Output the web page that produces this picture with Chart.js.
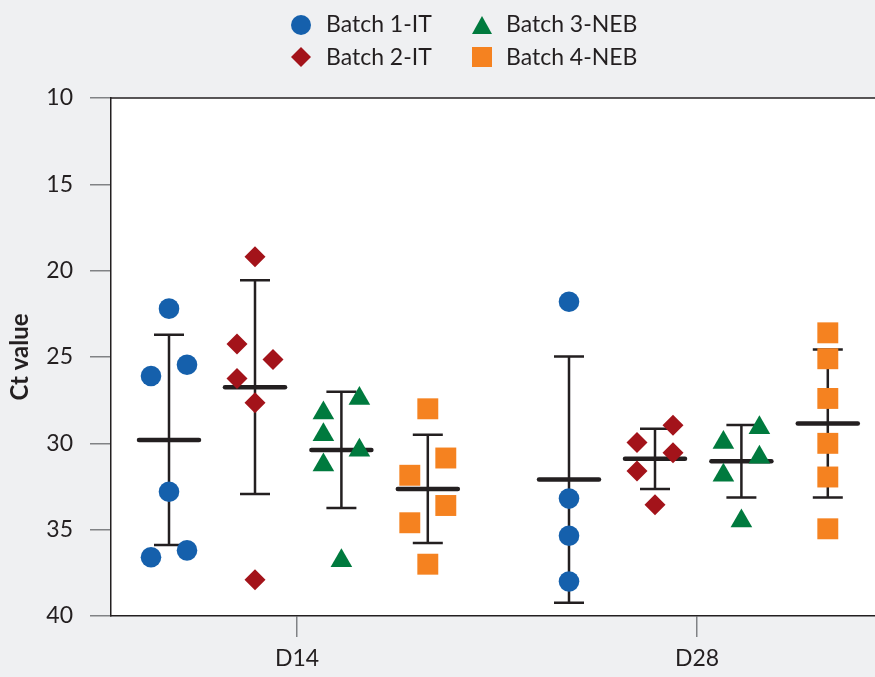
<!doctype html>
<html>
<head>
	<title>Ct value by batch</title>
	<script src="https://cdn.jsdelivr.net/npm/chart.js@4"></script>
	<style>
		body { margin: 0; background: #eff0f2; }
		#canvas-holder { width: 875px; height: 677px; }
	</style>
</head>
<body>
	<div id="canvas-holder">
		<canvas id="chart-area"></canvas>
	</div>
	<script>
		// data
		var timepoints = ['D14', 'D28'];
		var batchNames = ['Batch 1-IT', 'Batch 2-IT', 'Batch 3-NEB', 'Batch 4-NEB'];

		// Ct values, [D14 values, D28 values]
		var ctBatch1 = [[22.2, 25.45, 26.1, 32.8, 36.6, 36.2], [21.8, 33.2, 35.35, 38.0]];
		var ctBatch2 = [[19.2, 24.25, 25.15, 26.25, 27.65, 37.9], [28.95, 29.95, 30.55, 31.6, 33.55]];
		var ctBatch3 = [[27.4, 28.25, 29.5, 30.4, 31.25, 36.8], [29.1, 29.95, 30.8, 31.85, 34.5]];
		var ctBatch4 = [[28.0, 30.85, 31.85, 33.6, 34.6, 37.0], [23.6, 25.1, 27.4, 30.0, 31.95, 34.95]];

		// mean and SD per batch, [D14, D28]
		var meanBatch = [[29.8, 32.1], [26.75, 30.9], [30.38, 31.04], [32.64, 28.85]];
		var sdBatch = [[6.09, 7.13], [6.19, 1.75], [3.37, 2.1], [3.13, 4.29]];

		var yTickMin = 10, yTickMax = 40, yTickStep = 5;

		// layout: where each batch sits around its time point, and the sideways jitter of the dots
		var groupOffset = [-0.32, -0.105, 0.111, 0.327];
		var jitterStep = 0.045;
		var jitter = [
			[[0, 1, -1, 0, -1, 1], [0, 0, 0, 0]],
			[[0, -1, 1, -1, 0, 0], [1, -1, 1, -1, 0]],
			[[1, -1, -1, 1, -1, 0], [1, -1, 1, -1, 0]],
			[[0, 1, -1, 1, -1, 0], [0, 0, 0, 0, 0, 0]]
		];

		var ctValues = [ctBatch1, ctBatch2, ctBatch3, ctBatch4];
		var colors = ['#1560ac', '#a3131a', '#007a3e', '#f58220'];
		var styles = ['circle', 'rectRot', 'triangle', 'rect'];
		var radii = [10.3, 10.5, 12.5, 14.8];
		var ink = '#231f20';
		var tickGrey = '#808285';

		var datasets = [];
		ctValues.forEach(function(batch, b) {
			var pts = [];
			batch.forEach(function(values, t) {
				values.forEach(function(v, i) {
					pts.push({x: t + 1 + groupOffset[b] + jitter[b][t][i] * jitterStep, y: v});
				});
			});
			datasets.push({
				label: batchNames[b],
				data: pts,
				pointStyle: styles[b],
				pointRadius: radii[b],
				pointHoverRadius: radii[b],
				backgroundColor: colors[b],
				borderWidth: 0,
				pointBorderWidth: 0
			});
		});

		// error bars and means, drawn behind the dots
		var capHalf = 0.0375, meanHalf = 0.075;
		meanBatch.forEach(function(means, b) {
			means.forEach(function(m, t) {
				var cx = t + 1 + groupOffset[b];
				var lo = m - sdBatch[b][t], hi = m + sdBatch[b][t];
				datasets.push({
					type: 'line',
					data: [
						{x: cx - capHalf, y: lo}, {x: cx + capHalf, y: lo}, {x: cx, y: lo},
						{x: cx, y: hi}, {x: cx - capHalf, y: hi}, {x: cx + capHalf, y: hi}
					],
					borderColor: ink,
					borderWidth: 2.5,
					pointRadius: 0,
					fill: false,
					tension: 0
				});
				datasets.push({
					type: 'line',
					data: [{x: cx - meanHalf, y: m}, {x: cx + meanHalf, y: m}],
					borderColor: ink,
					borderWidth: 4.5,
					borderCapStyle: 'round',
					pointRadius: 0,
					fill: false
				});
			});
		});

		var backdrop = {
			id: 'backdrop',
			beforeDraw: function(chart) {
				var ctx = chart.ctx, a = chart.chartArea;
				ctx.save();
				ctx.fillStyle = '#eff0f2';
				ctx.fillRect(0, 0, chart.width, chart.height);
				ctx.fillStyle = '#ffffff';
				ctx.fillRect(a.left, a.top, a.right - a.left, a.bottom - a.top);
				ctx.strokeStyle = ink;
				ctx.lineWidth = 1.5;
				ctx.beginPath();
				ctx.moveTo(a.left, a.top);
				ctx.lineTo(a.right, a.top);
				ctx.stroke();
				ctx.restore();
			}
		};

		function drawMarker(ctx, style, x, y) {
			ctx.beginPath();
			if (style === 'circle') {
				ctx.arc(x, y, 10, 0, Math.PI * 2);
			} else if (style === 'rectRot') {
				ctx.moveTo(x, y - 10); ctx.lineTo(x + 10, y); ctx.lineTo(x, y + 10); ctx.lineTo(x - 10, y);
			} else if (style === 'triangle') {
				ctx.moveTo(x, y - 9); ctx.lineTo(x + 10, y + 9); ctx.lineTo(x - 10, y + 9);
			} else {
				ctx.rect(x - 10, y - 10, 20, 20);
			}
			ctx.closePath();
			ctx.fill();
		}

		// two column legend, batches 1-2 left, 3-4 right
		var twoColumnLegend = {
			id: 'twoColumnLegend',
			afterDraw: function(chart) {
				var ctx = chart.ctx;
				ctx.save();
				ctx.font = '23px Lato';
				ctx.textBaseline = 'alphabetic';
				batchNames.forEach(function(name, b) {
					var col = Math.floor(b / 2), row = b % 2;
					ctx.fillStyle = colors[b];
					drawMarker(ctx, styles[b], 301 + col * 181, 25 + row * 32);
					ctx.fillStyle = ink;
					ctx.fillText(name, 326 + col * 180, 32 + row * 33);
				});
				ctx.restore();
			}
		};

		var config = {
			type: 'scatter',
			data: { datasets: datasets },
			plugins: [backdrop, twoColumnLegend],
			options: {
				responsive: true,
				maintainAspectRatio: false,
				animation: false,
				layout: { autoPadding: false, padding: { top: 98, left: 0, right: 0, bottom: 0 } },
				plugins: {
					legend: { display: false },
					tooltip: { enabled: false }
				},
				scales: {
					x: {
						type: 'linear',
						min: 0.535,
						max: 2.445,
						afterBuildTicks: function(scale) {
							scale.ticks = timepoints.map(function(t, i) { return {value: i + 1}; });
						},
						afterFit: function(scale) { scale.height = 61; },
						ticks: {
							autoSkip: false,
							maxRotation: 0,
							padding: 8,
							color: ink,
							font: { family: 'Lato', size: 23 },
							callback: function(value, index) { return timepoints[index]; }
						},
						grid: { drawOnChartArea: false, drawTicks: true, tickLength: 21, color: tickGrey, lineWidth: 1.5 },
						border: { color: ink, width: 1.5 }
					},
					y: {
						reverse: true,
						min: yTickMin,
						max: yTickMax,
						afterFit: function(scale) { scale.width = 111; },
						ticks: {
							stepSize: yTickStep,
							padding: 17,
							color: ink,
							font: { family: 'Lato', size: 23 }
						},
						grid: { drawOnChartArea: false, drawTicks: true, tickLength: 21, color: tickGrey, lineWidth: 1.5 },
						border: { color: ink, width: 1.5 },
						title: {
							display: true,
							text: 'Ct value',
							color: ink,
							font: { family: 'Lato', size: 24, weight: 'bold' },
							padding: { top: 6, bottom: 0 }
						}
					}
				}
			}
		};

		window.onload = function() {
			var ctx = document.getElementById('chart-area').getContext('2d');
			window.myChart = new Chart(ctx, config);
		};
	</script>
</body>
</html>
